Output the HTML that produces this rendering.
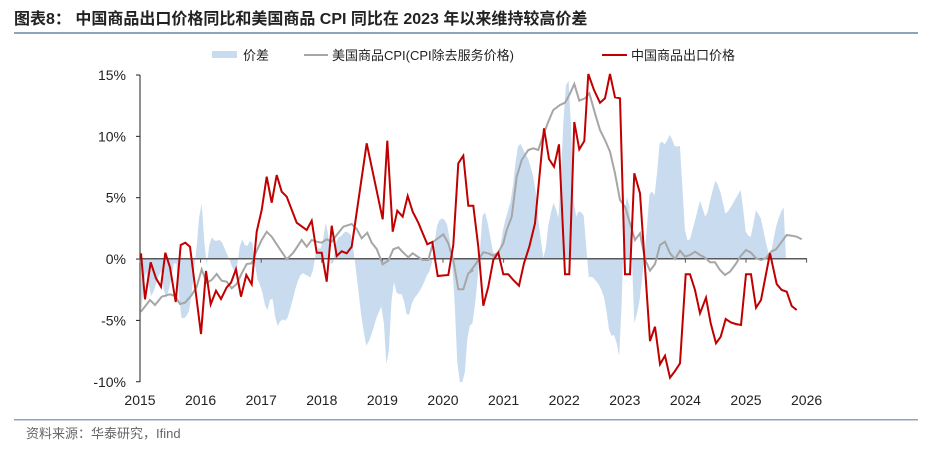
<!DOCTYPE html>
<html><head><meta charset="utf-8"><style>
body{margin:0;background:#fff;width:936px;height:445px;overflow:hidden;font-family:"Liberation Sans","Noto Sans CJK SC",sans-serif}
</style></head><body>
<svg id="s" width="936" height="445" xmlns="http://www.w3.org/2000/svg" font-family="Liberation Sans, Noto Sans CJK SC, sans-serif">
<text x="14" y="24" font-size="16" font-weight="bold" fill="#222">图表8：  中国商品出口价格同比和美国商品 CPI 同比在 2023 年以来维持较高价差</text>
<rect x="14" y="32" width="904" height="2" fill="#8fa3bf"/>
<rect x="212" y="51" width="25" height="7" fill="#c9dcef"/>
<text x="243" y="60" font-size="13" fill="#222">价差</text>
<line x1="304" y1="55" x2="328" y2="55" stroke="#a6a6a6" stroke-width="2"/>
<text x="332" y="60" font-size="13" fill="#222">美国商品CPI(CPI除去服务价格)</text>
<line x1="602" y1="55" x2="627" y2="55" stroke="#c00000" stroke-width="2"/>
<text x="631" y="60" font-size="13" fill="#222">中国商品出口价格</text>
<g id="plot"></g>
<rect x="14" y="419" width="904" height="1.5" fill="#8fa3bf"/>
<text x="26" y="438" font-size="13" fill="#666">资料来源：华泰研究，Ifind</text>
</svg>
<script>
const z2=(a)=>a.map(p=>[130+p[0]/3,60+p[1]/3]);const z3=(a)=>a.map(p=>[470+p[0]/3,60+p[1]/3]);
const red=z2([[33,580],[45,718],[62,607],[78,655],[93,680],[106,578],[120,622],[137,726],[152,555],[166,548],[180,560],[213,822],[228,633],[242,733],[258,692],[273,717],[290,682],[303,668],[318,628],[333,710],[349,645],[365,673],[380,515],[395,450],[410,350],[425,428],[440,345],[455,395],[470,410],[500,488],[530,510],[545,482],[560,578],[575,578],[590,665],[605,497],[620,588],[635,574],[650,580],[665,560],[710,250],[758,478],[772,242],[788,515],[802,452],[818,470],[833,408],[848,455],[865,488],[892,553],[907,546],[923,648],[955,645],[970,555],[985,310],[1000,287],[1015,437],[1030,437]]).concat(z3([[25,560],[40,737],[55,680],[70,600],[85,578],[100,643],[115,643],[130,660],[147,677],[162,610],[178,560],[195,490],[222,205],[237,297],[252,320],[267,253],[285,643],[298,643],[313,186],[328,268],[343,243],[355,42],[372,90],[390,128],[405,115],[420,42],[435,112],[450,115],[465,643],[480,643],[493,340],[510,400],[540,843],[555,800],[570,913],[585,887],[600,953],[615,933],[630,910],[647,643],[660,643],[675,690],[690,760],[708,713],[722,790],[738,850],[752,830],[767,777],[782,787],[797,792],[813,795],[828,643],[843,643],[858,743],[873,720],[900,580],[920,672],[935,690],[950,695],[965,738],[980,750]]));
const gray=z2([[33,755],[60,720],[75,735],[95,710],[120,703],[135,708],[150,732],[165,728],[185,705],[200,680],[215,628],[230,668],[245,660],[260,642],[275,662],[290,665],[305,685],[320,672],[335,640],[350,612],[365,610],[380,572],[395,540],[410,515],[425,530],[445,560],[470,598],[490,578],[515,540],[530,560],[545,540],[560,545],[575,548],[590,538],[605,545],[620,525],[640,500],[665,492],[680,507],[695,535],[712,518],[725,548],[740,567],[758,613],[775,602],[790,568],[805,562],[820,578],[835,592],[848,580],[863,590],[878,600],[895,600],[910,545],[940,523],[955,550],[970,600],[985,688],[1000,688],[1015,640],[1030,630]]).concat(z3([[0,635],[15,615],[40,577],[55,580],[70,587],[85,577],[100,550],[110,510],[125,470],[140,350],[155,300],[175,270],[190,265],[205,270],[220,225],[235,185],[250,150],[270,135],[285,128],[298,105],[313,72],[328,122],[345,115],[358,100],[375,160],[390,210],[405,240],[420,275],[435,340],[450,420],[465,440],[480,490],[495,540],[510,520],[525,598],[540,632],[555,612],[570,555],[585,545],[600,580],[615,597],[630,572],[645,590],[660,585],[675,575],[690,585],[705,593],[720,607],[735,607],[750,630],[765,645],[780,635],[797,612],[812,588],[828,570],[843,578],[858,595],[873,600],[888,595],[903,575],[918,568],[935,545],[950,525],[965,527],[980,530],[995,538]]));
const Y0=258.7;
function interp(a,x){for(let i=1;i<a.length;i++){if(a[i][0]>=x){const p=a[i-1],q=a[i];const t=(x-p[0])/((q[0]-p[0])||1);return p[1]+t*(q[1]-p[1]);}}return a[a.length-1][1];}
let area=[[141,Y0]];
for(let x=141;x<=786;x+=2.53){let gy=interp(gray,x),ry=interp(red,x);let d=Y0+(gy-ry)*1; d=Math.max(75,Math.min(382,d));area.push([x,d]);}
area.push([786,Y0]);
const pts=a=>a.map(p=>p[0].toFixed(1)+','+p[1].toFixed(1)).join(' ');
let h='';
h+=`<polygon points="${pts(area)}" fill="#c9dcef"/>`;
h+=`<line x1="140" y1="${Y0}" x2="807" y2="${Y0}" stroke="#595959" stroke-width="1.5"/>`;
h+=`<line x1="140" y1="75" x2="140" y2="382" stroke="#222" stroke-width="1"/>`;
const yl=['15%','10%','5%','0%','-5%','-10%'];
for(let i=0;i<6;i++){const y=75+i*61.35;h+=`<line x1="136" y1="${y}" x2="140" y2="${y}" stroke="#222"/>`;h+=`<text x="126" y="${y+5}" font-size="14" text-anchor="end" fill="#222">${yl[i]}</text>`;}
for(let i=0;i<=11;i++){const x=140+i*60.6;h+=`<line x1="${x}" y1="${Y0}" x2="${x}" y2="${Y0+4}" stroke="#595959"/>`;h+=`<text x="${x}" y="405" font-size="14" text-anchor="middle" fill="#222">${2015+i}</text>`;}
h+=`<polyline points="${pts(gray)}" fill="none" stroke="#a6a6a6" stroke-width="2"/>`;
h+=`<polyline points="${pts(red)}" fill="none" stroke="#c00000" stroke-width="2"/>`;
document.getElementById('plot').innerHTML=h;
</script>
</body></html>
